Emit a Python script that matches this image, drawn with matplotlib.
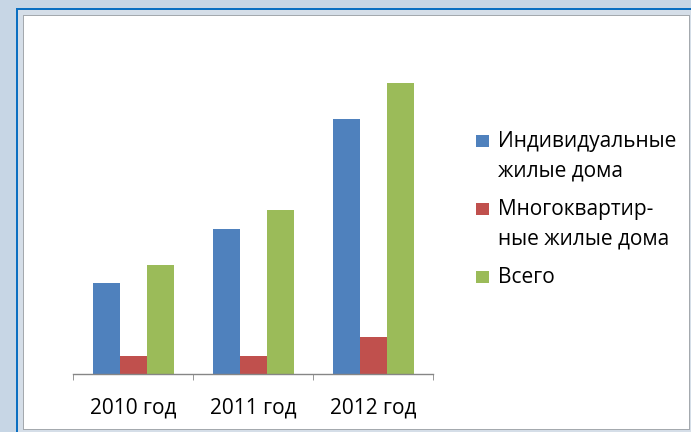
import numpy as np
import matplotlib
matplotlib.use('Agg')
import matplotlib.pyplot as plt
from matplotlib.patches import Rectangle

W, H = 691, 432

years = ['2010 год', '2011 год', '2012 год']
series_names = ['Индивидуальные\nжилые дома', 'Многоквартир-\nные жилые дома', 'Всего']
individual = [91, 145, 255]
apartment = [18, 18, 37]
total = [109, 164, 291]
colors = ['#4F81BD', '#C0504D', '#9BBB59']

plt.rcParams['font.family'] = ['Open Sans', 'DejaVu Sans']


def box(fig, x0, y0, x1, y1, color, z=0):
    # pixel coordinates from top-left corner
    fig.add_artist(Rectangle((x0 / W, 1 - y1 / H), (x1 - x0) / W, (y1 - y0) / H,
                             transform=fig.transFigure, facecolor=color,
                             edgecolor='none', zorder=z))


fig = plt.figure(figsize=(W / 100, H / 100), dpi=100)
fig.patch.set_facecolor('#C7D6E5')
box(fig, 16, 8, W + 2, H + 2, '#0B6FC1')
box(fig, 18, 10, W + 2, H + 2, '#D5DEE8')
box(fig, 23, 15, 690, 430, '#A4A9AE')
box(fig, 24, 16, 689, 429, 'white')

ax = fig.add_axes([73 / W, 1 - 374 / H, 360 / W, 334 / H])
ax.patch.set_alpha(0)
ax.set_zorder(2)

x = np.arange(len(years))
w = 27 / 120
for k, vals in enumerate([individual, apartment, total]):
    ax.bar(x + (k - 1) * w, vals, width=w, color=colors[k], edgecolor='none', zorder=2)

ax.set_xlim(-0.5, 2.5)
ax.set_ylim(0, 334)
for s in ['top', 'right', 'left']:
    ax.spines[s].set_visible(False)
ax.spines['bottom'].set_color('#868686')
ax.spines['bottom'].set_linewidth(1)
ax.set_yticks([])
ax.set_xticks(x)
ax.set_xticklabels(years, fontsize=15)
ax.tick_params(axis='x', which='major', length=0, pad=17)
ax.set_xticks([-0.5, 0.5, 1.5, 2.5], minor=True)
ax.tick_params(axis='x', which='minor', length=4, color='#868686', direction='out')

# legend drawn by hand so the square sits on the first line
baselines = [147, 215, 283]
for k, name in enumerate(series_names):
    b = baselines[k]
    box(fig, 476, b - 12, 489, b, colors[k], z=3)
    fig.text(498 / W, 1 - (b - 16) / H, name, fontsize=15, va='top',
             ha='left', linespacing=1.52, zorder=3)

fig.savefig('out.png', dpi=100, facecolor=fig.get_facecolor())
